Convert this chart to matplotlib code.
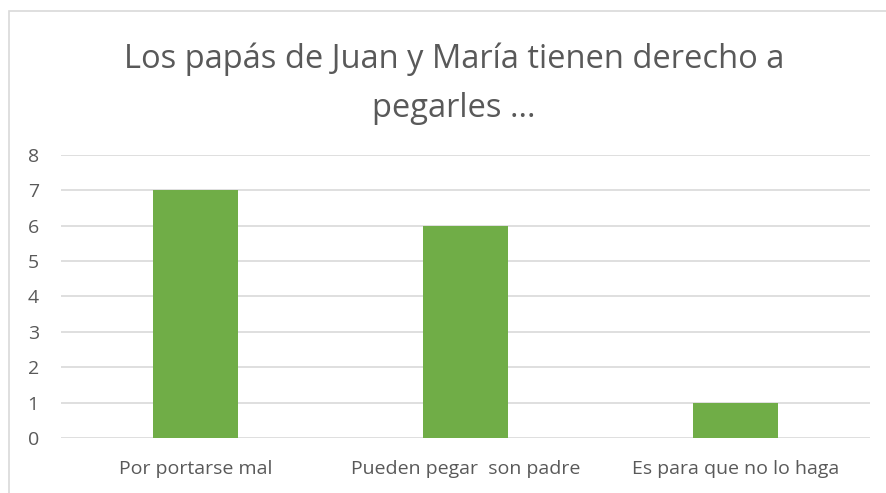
import matplotlib.pyplot as plt
from matplotlib.patches import Rectangle

categories = ["Por portarse mal", "Pueden pegar  son padre", "Es para que no lo haga"]
values = [7, 6, 1]
yticks = [0, 1, 2, 3, 4, 5, 6, 7, 8]
title = "Los papás de Juan y María tienen derecho a\npegarles ..."

plt.rcParams['font.family'] = ['Open Sans', 'DejaVu Sans']
text_col = '#595959'

fig = plt.figure(figsize=(8.87, 4.93), dpi=100)
ax = fig.add_axes([0.0688, 0.1116, 0.9122, 0.574])

# chart border (cut off at right/bottom like the screenshot)
fig.patches.append(Rectangle((9/887, -0.05), 1.0, 1 - 11/493 + 0.05,
                             transform=fig.transFigure, fill=False,
                             edgecolor='#D9D9D9', linewidth=1.2))

x = range(len(categories))
ax.bar(x, values, width=0.315, color='#70AD47', zorder=3)

ax.set_xlim(-0.5, 2.5)
ax.set_ylim(0, 8)
ax.set_yticks(yticks)
ax.set_xticks(list(x))
ax.set_xticklabels(categories)
ax.grid(axis='y', color='#D9D9D9', linewidth=1.2, zorder=0)
for s in ax.spines.values():
    s.set_visible(False)
ax.tick_params(length=0, labelsize=14, colors=text_col)
ax.tick_params(axis='x', pad=16)
ax.tick_params(axis='y', pad=16)

fig.text(0.512, 0.746, title, ha='center', va='bottom', fontsize=23.5,
         color=text_col, linespacing=1.65)

fig.savefig('out.png', dpi=100)
